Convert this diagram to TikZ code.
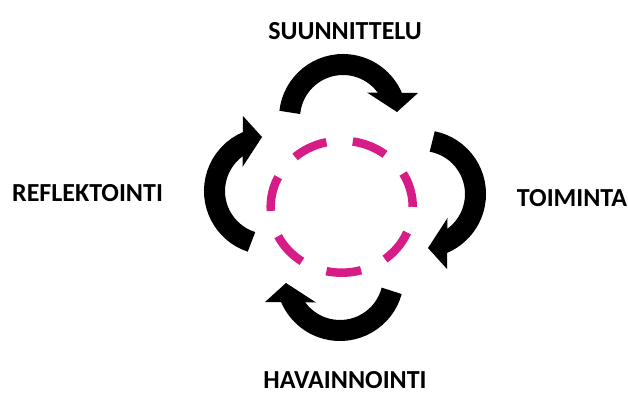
\documentclass[tikz,border=0pt]{standalone}
\usepackage{fontspec}
\setmainfont{Carlito}
\usepackage{tikz}
\definecolor{ringpink}{RGB}{214,28,135}

\begin{document}
\begin{tikzpicture}[
  x=1pt,y=1pt,
  phase/.style={font=\bfseries\fontsize{26}{30}\selectfont,inner sep=0pt},
  band/.style={draw=black,line width=21pt},
  ring/.style={draw=ringpink,line width=8.5pt,dash pattern=on 35pt off 26.5pt}
]
  \useasboundingbox (0,0) rectangle (628,394);
  \coordinate (hub) at (341.7,187.3);
  \coordinate (plan) at (343,276);
  \coordinate (act) at (422,200);
  \coordinate (obs) at (340,117);
  \coordinate (refl) at (268,203);

  \draw[ring] (hub) ellipse [x radius=71,y radius=66];

  % suunnittelu -> toiminta
  \begin{scope}[shift={(plan)}]
    \draw[band] (174:53.5) arc[start angle=174,end angle=22,radius=53.5];
    \fill (24,25.5) -- (75,25) -- (54,6) -- cycle;
  \end{scope}
  % toiminta -> havainnointi
  \begin{scope}[shift={(act)},rotate=-90]
    \draw[band] (169:53.5) arc[start angle=169,end angle=22,radius=53.5];
    \fill (24,25.5) -- (75,25) -- (54,6) -- cycle;
  \end{scope}
  % havainnointi -> reflektointi
  \begin{scope}[shift={(obs)},rotate=180]
    \draw[band] (165:53.5) arc[start angle=165,end angle=22,radius=53.5];
    \fill (24,25.5) -- (75,25) -- (54,6) -- cycle;
  \end{scope}
  % reflektointi -> suunnittelu
  \begin{scope}[shift={(refl)},rotate=90]
    \draw[band] (162:53.5) arc[start angle=162,end angle=22,radius=53.5];
    \fill (24,25.5) -- (75,25) -- (54,6) -- cycle;
  \end{scope}

  \node[phase] (suun) at (345,362.5) {SUUNNITTELU};
  \node[phase] (toim) at (572,196.3) {TOIMINTA};
  \node[phase] (hava) at (345,14) {HAVAINNOINTI};
  \node[phase] (refk) at (87.5,200.5) {REFLEKTOINTI};
\end{tikzpicture}
\end{document}
